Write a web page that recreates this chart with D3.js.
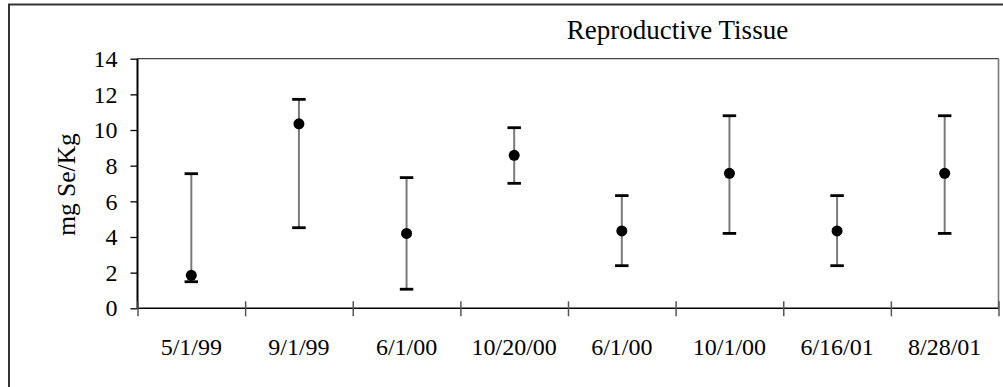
<!DOCTYPE html>
<html>
<head>
<meta charset="utf-8">
<script src="https://cdn.jsdelivr.net/npm/d3@7/dist/d3.min.js"></script>
<style>
  html, body { margin: 0; padding: 0; background: #fff; }
  svg { display: block; }
  text { font-family: "Liberation Serif", "Times New Roman", serif; fill: #000; }
</style>
</head>
<body>
<svg id="chart" width="1003" height="387"></svg>
<script>
const categories = ["5/1/99", "9/1/99", "6/1/00", "10/20/00", "6/1/00", "10/1/00", "6/16/01", "8/28/01"];
const means = [1.85, 10.35, 4.2, 8.58, 4.34, 7.57, 4.34, 7.57];
const upper = [7.55, 11.72, 7.33, 10.13, 6.32, 10.8, 6.32, 10.8];
const lower = [1.49, 4.52, 1.07, 7.01, 2.39, 4.2, 2.39, 4.2];
const yTicks = [0, 2, 4, 6, 8, 10, 12, 14];
const chartTitle = "Reproductive Tissue";
const yTitle = "mg Se/Kg";

const svg = d3.select("#chart");
const L = 137.5, R = 998.5, T = 58.7, B = 308.3;

// outer frame (extends past the picture on right/bottom)
svg.append("rect").attr("x", 9).attr("y", 4.5).attr("width", 1010).attr("height", 400)
  .attr("fill", "none").attr("stroke", "#333").attr("stroke-width", 2);

const idx = d3.range(categories.length);
const x = d3.scaleBand().domain(idx).range([L, R]).paddingInner(0).paddingOuter(0);
const xb = d3.scaleLinear().domain([0, categories.length]).range([L, R]);
const y = d3.scaleLinear().domain([0, 14]).range([B, T]);

// plot area top and right border
svg.append("line").attr("x1", L).attr("x2", R).attr("y1", y(14)).attr("y2", y(14))
  .attr("stroke", "#444").attr("stroke-width", 1.3);
svg.append("line").attr("x1", R).attr("x2", R).attr("y1", y(14)).attr("y2", y(0))
  .attr("stroke", "#777").attr("stroke-width", 1.6);

// y axis
const yAxis = svg.append("g").attr("transform", `translate(${L},0)`)
  .call(d3.axisLeft(y).tickValues(yTicks).tickSize(7).tickPadding(13).tickFormat(d3.format("d")));
yAxis.attr("font-family", null).attr("font-size", null);
yAxis.select(".domain").attr("stroke", "#000").attr("stroke-width", 2).attr("d", `M0,${y(0)}V${y(14)}`);
yAxis.selectAll(".tick line").attr("stroke", "#000").attr("stroke-width", 1.3);
yAxis.selectAll(".tick text").attr("font-size", 24).attr("font-family", "Liberation Serif").attr("fill", "#000");

// x axis line
svg.append("line").attr("x1", L).attr("x2", R).attr("y1", B).attr("y2", B)
  .attr("stroke", "#000").attr("stroke-width", 1.6);
// boundary ticks crossing the axis
const xAxisTicks = svg.append("g").attr("transform", `translate(0,${B})`)
  .call(d3.axisBottom(xb).tickValues(d3.range(categories.length + 1)).tickSize(8).tickFormat(""));
xAxisTicks.select(".domain").remove();
xAxisTicks.selectAll(".tick line").attr("y1", -7).attr("stroke", "#555").attr("stroke-width", 1.5);

// category labels
const xAxis = svg.append("g").attr("transform", `translate(0,${B})`)
  .call(d3.axisBottom(x).tickSize(0).tickPadding(30).tickFormat(i => categories[i]));
xAxis.attr("font-family", null).attr("font-size", null);
xAxis.select(".domain").remove();
xAxis.selectAll(".tick text").attr("font-size", 24).attr("font-family", "Liberation Serif").attr("fill", "#000");

// error bars
const g = svg.append("g");
const cx = i => x(i) + x.bandwidth() / 2;
const capW = 13.5;
g.selectAll("line.err").data(idx).join("line").attr("class", "err")
  .attr("x1", cx).attr("x2", cx).attr("y1", i => y(upper[i])).attr("y2", i => y(lower[i]))
  .attr("stroke", "#7a7a7a").attr("stroke-width", 2);
g.selectAll("line.capU").data(idx).join("line").attr("class", "capU")
  .attr("x1", i => cx(i) - capW / 2).attr("x2", i => cx(i) + capW / 2)
  .attr("y1", i => y(upper[i])).attr("y2", i => y(upper[i]))
  .attr("stroke", "#000").attr("stroke-width", 2.8);
g.selectAll("line.capL").data(idx).join("line").attr("class", "capL")
  .attr("x1", i => cx(i) - capW / 2).attr("x2", i => cx(i) + capW / 2)
  .attr("y1", i => y(lower[i])).attr("y2", i => y(lower[i]))
  .attr("stroke", "#000").attr("stroke-width", 2.8);
g.selectAll("circle.pt").data(idx).join("circle").attr("class", "pt")
  .attr("cx", cx).attr("cy", i => y(means[i])).attr("r", 5.5).attr("fill", "#000");

// titles
svg.append("text").attr("x", 677.5).attr("y", 38.5).attr("text-anchor", "middle")
  .attr("font-size", 27).text(chartTitle);
svg.append("text").attr("transform", `translate(75,184.5) rotate(-90)`)
  .attr("text-anchor", "middle").attr("font-size", 25.5).text(yTitle);
</script>
</body>
</html>
